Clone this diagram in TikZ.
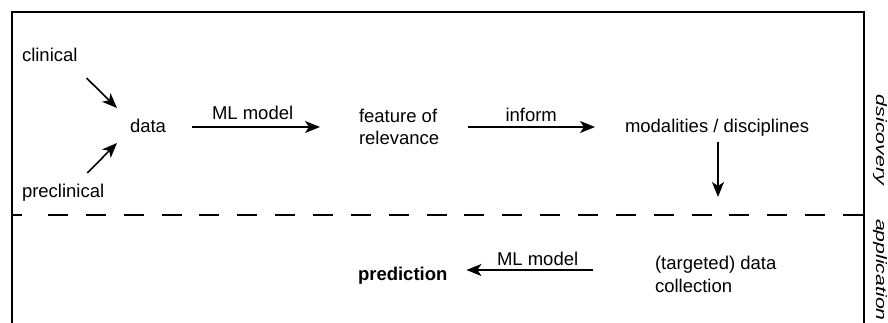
\documentclass[tikz,border=0pt]{standalone}
\usepackage{fontspec}
\setmainfont{Liberation Sans}
\usetikzlibrary{arrows.meta}

\begin{document}
\begin{tikzpicture}[x=1pt,y=-1pt,
  lbl/.style={inner sep=0pt, outer sep=0pt, anchor=base west,
              font=\fontsize{18.5}{22.5}\selectfont},
  lbl2/.style={lbl, align=left},
  side/.style={inner sep=0pt, outer sep=0pt, anchor=base west, rotate=-90,
               xscale=1.42, font=\fontsize{15}{18}\selectfont\itshape},
  arr/.style={line width=1.6pt, -{Stealth[length=15pt,width=12pt,inset=4pt]}},
  frame/.style={line width=1.6pt},
  sep/.style={line width=1.6pt, dash pattern=on 20pt off 17.86pt}
]
\useasboundingbox (0,0) rectangle (888,323);

% outer frame (open at the bottom)
\draw[frame] (12,326) -- (12,12) -- (864,12) -- (864,326);

% separator between the two phases
\draw[frame] (12,215) -- (22,215);
\draw[sep] (48,215) -- (864,215);

% discovery phase
\node[lbl] (clin) at (22,62) {clinical};
\node[lbl] (precl) at (22,197) {preclinical};
\node[lbl] (data) at (130,133) {data};
\node[lbl] (mltop) at (212,120) {ML model};
\node[lbl2] (feat) at (359,145) {feature of\\relevance};
\node[lbl] (inform) at (505.5,121.5) {inform};
\node[lbl] (modal) at (625,133) {modalities / disciplines};

% application phase
\node[lbl2] (collect) at (655,292) {(targeted) data\\collection};
\node[lbl] (mlbot) at (497,265) {ML model};
\node[lbl] (pred) at (358,280) {\bfseries prediction};

% phase labels
\node[side] (disc) at (876,95) {dsicovery};
\node[side] (appl) at (876,219) {application};

% connectors
\draw[arr] ([shift={(9,16)}]clin.base east) -- ([shift={(-13,-25)}]data.base west);
\draw[arr] ([shift={(-17,-24)}]precl.base east) -- ([shift={(-13,10)}]data.base west);
\draw[arr] ([shift={(26,-6)}]data.base east) -- ([shift={(-39,-18)}]feat.base west);
\draw[arr] ([shift={(-38,5.5)}]inform.base west) -- ([shift={(-30,-6)}]modal.base west);
\draw[arr] ([shift={(93,9)}]modal.base west) -- ([shift={(93,64)}]modal.base west);
\draw[arr] ([shift={(-62,-22)}]collect.base west) -- ([shift={(19,-10)}]pred.base east);
\end{tikzpicture}
\end{document}
